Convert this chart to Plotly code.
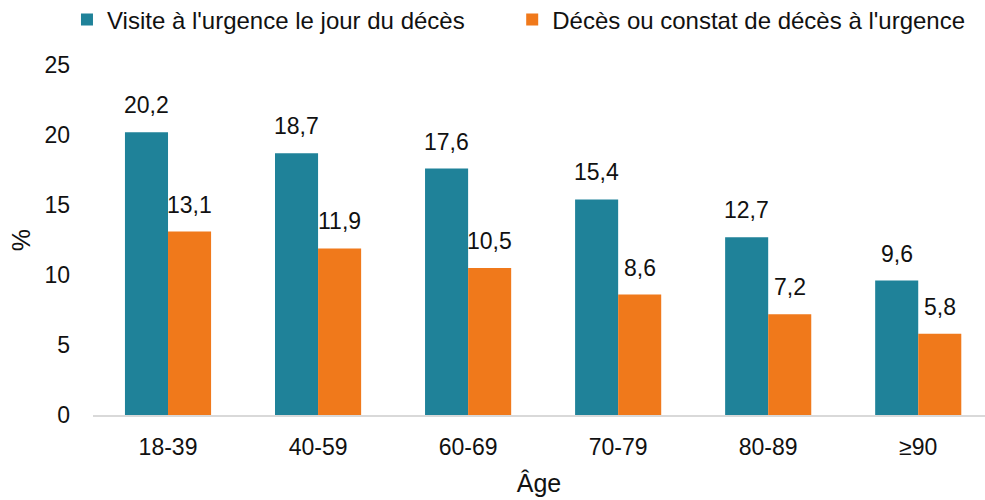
import plotly.graph_objects as go

age_groups = ["18-39", "40-59", "60-69", "70-79", "80-89", "≥90"]
visit_same_day = [20.2, 18.7, 17.6, 15.4, 12.7, 9.6]
death_in_ed = [13.1, 11.9, 10.5, 8.6, 7.2, 5.8]

series_names = [
    "Visite à l'urgence le jour du décès",
    "Décès ou constat de décès à l'urgence",
]

TEAL = "#1F8299"
ORANGE = "#F0791B"
FONT = "Liberation Sans, Arial, sans-serif"
TXT = "#111111"


def fr(v):
    return f"{v:.1f}".replace(".", ",")


series = [
    (series_names[0], visit_same_day, TEAL, "legend", -21.5),
    (series_names[1], death_in_ed, ORANGE, "legend2", 21.5),
]

fig = go.Figure()
annotations = []
for name, values, color, leg, shift in series:
    fig.add_trace(go.Bar(
        x=age_groups,
        y=values,
        name=name,
        legend=leg,
        marker=dict(color=color, line=dict(width=0)),
    ))
    # value labels above each bar
    for cat, v in zip(age_groups, values):
        annotations.append(dict(
            x=cat, y=v, xref="x", yref="y",
            text=fr(v), showarrow=False,
            xanchor="center", yanchor="bottom",
            xshift=shift, yshift=12,
            font=dict(size=23, color=TXT, family=FONT),
        ))

legend_style = dict(
    orientation="h",
    xref="container", yref="container",
    xanchor="left", yanchor="middle",
    font=dict(size=24, family=FONT, color=TXT),
    itemwidth=30,
    bgcolor="rgba(0,0,0,0)",
)

fig.update_layout(
    width=985,
    height=500,
    margin=dict(l=93, r=0, t=65, b=85),
    plot_bgcolor="white",
    paper_bgcolor="white",
    barmode="group",
    bargap=0.426,
    bargroupgap=0,
    font=dict(family=FONT, size=23, color=TXT),
    showlegend=True,
    legend=dict(legend_style, x=0.068, y=0.96),
    legend2=dict(legend_style, x=0.52, y=0.96),
    annotations=annotations,
    xaxis=dict(
        range=[-0.5, 5.445],
        showline=True,
        linecolor="#d9d9d9",
        linewidth=2,
        ticks="",
        ticklabelstandoff=10,
        tickfont=dict(size=23),
        title=dict(text="Âge", font=dict(size=25), standoff=16),
    ),
    yaxis=dict(
        range=[0, 25],
        dtick=5,
        showgrid=False,
        zeroline=False,
        showline=False,
        ticks="",
        ticklabelstandoff=22,
        tickfont=dict(size=23),
        title=dict(text="%", font=dict(size=25), standoff=6),
    ),
)

fig.write_html("out.html")
